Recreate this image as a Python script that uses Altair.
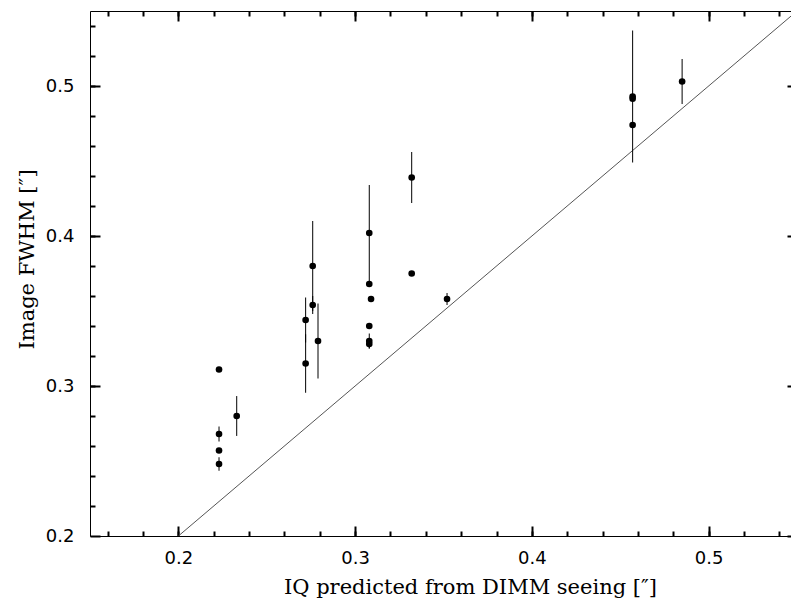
import altair as alt
import pandas as pd

# Data
x_iq = [0.223, 0.223, 0.223, 0.223, 0.233, 0.272, 0.272, 0.276, 0.276, 0.279,
        0.308, 0.308, 0.309, 0.308, 0.308, 0.308, 0.332, 0.332, 0.352,
        0.457, 0.457, 0.457, 0.485]
y_fwhm = [0.311, 0.268, 0.257, 0.248, 0.280, 0.344, 0.315, 0.380, 0.354, 0.330,
          0.402, 0.368, 0.358, 0.340, 0.330, 0.328, 0.439, 0.375, 0.358,
          0.493, 0.4915, 0.474, 0.503]
y_err = [0.0, 0.005, 0.0, 0.0045, 0.0133, 0.015, 0.0195, 0.030, 0.006, 0.025,
         0.032, 0.0, 0.0, 0.0, 0.005, 0.003, 0.017, 0.0, 0.004,
         0.044, 0.0, 0.0, 0.015]

line_x = [0.2, 0.55]
line_y = [0.2, 0.55]

x_major = [0.2, 0.3, 0.4, 0.5]
x_minor = [0.16, 0.18, 0.2, 0.22, 0.24, 0.26, 0.28, 0.3, 0.32, 0.34, 0.36,
           0.38, 0.4, 0.42, 0.44, 0.46, 0.48, 0.5, 0.52, 0.54]
y_major = [0.2, 0.3, 0.4, 0.5]
y_minor = [0.22, 0.24, 0.26, 0.28, 0.3, 0.32, 0.34, 0.36, 0.38, 0.4, 0.42,
           0.44, 0.46, 0.48, 0.5, 0.52, 0.54]

x_title = "IQ predicted from DIMM seeing [\u2033]"
y_title = "Image FWHM [\u2033]"

df = pd.DataFrame({
    "x": x_iq,
    "y": y_fwhm,
    "lo": [v - e for v, e in zip(y_fwhm, y_err)],
    "hi": [v + e for v, e in zip(y_fwhm, y_err)],
})
dline = pd.DataFrame({"lx": line_x, "ly": line_y})

# the right frame of the original falls just outside the picture
xs = alt.Scale(domain=[0.15, 0.5466], nice=False, zero=False)
ys = alt.Scale(domain=[0.2, 0.55], nice=False, zero=False)

LABEL_FONT = "DejaVu Sans"
TITLE_FONT = "DejaVu Serif"


def tick_axis(orient, values, size, offset):
    return alt.Axis(orient=orient, values=values, ticks=True, tickSize=size,
                    tickColor="#000000", tickWidth=2, labels=False, domain=False,
                    grid=False, title="", offset=offset)


ax_bottom = alt.Axis(orient="bottom", values=x_major, format=".1f", ticks=False,
                     domain=True, domainColor="black",
                     labelFont=LABEL_FONT, labelFontSize=18, labelColor="black",
                     labelPadding=13, labelFlush=False, grid=False,
                     title=x_title, titleFont=TITLE_FONT, titleFontSize=21,
                     titleFontWeight="normal", titleColor="black",
                     titleBaseline="alphabetic", titleAlign="center",
                     titleX=380, titleY=57, offset=0)
ay_left = alt.Axis(orient="left", values=y_major, format=".1f", ticks=False,
                   domain=True, domainColor="black",
                   labelFont=LABEL_FONT, labelFontSize=18, labelColor="black",
                   labelPadding=16, labelFlush=False, grid=False,
                   title=y_title, titleFont=TITLE_FONT, titleFontSize=21,
                   titleFontWeight="normal", titleColor="black",
                   titleBaseline="alphabetic", titleAlign="center", titleAngle=270,
                   titleX=-57, titleY=248, offset=0)
ax_top_domain = alt.Axis(orient="top", ticks=False, labels=False, domain=True,
                         domainColor="black", grid=False, title="", offset=0)

points = alt.Chart(df).mark_circle(size=44, color="black", opacity=1).encode(
    x=alt.X("x:Q", scale=xs, axis=ax_bottom),
    y=alt.Y("y:Q", scale=ys, axis=ay_left),
)

errbars = alt.Chart(df).mark_rule(color="black").encode(
    x=alt.X("x:Q", scale=xs, axis=tick_axis("bottom", x_major, 10, -10)),
    y=alt.Y("lo:Q", scale=ys, axis=tick_axis("left", y_major, 10, -10)),
    y2="hi:Q",
)

diag = alt.Chart(dline).mark_line(color="#555555", strokeWidth=1, clip=True).encode(
    x=alt.X("lx:Q", scale=xs, axis=tick_axis("bottom", x_minor, 5, -5)),
    y=alt.Y("ly:Q", scale=ys, axis=tick_axis("left", y_minor, 5, -5)),
)

ghost1 = alt.Chart(df).mark_point(opacity=0).encode(
    x=alt.X("x:Q", scale=xs, axis=ax_top_domain),
    y=alt.Y("y:Q", scale=ys, axis=tick_axis("right", y_major, 10, -4)),
)
ghost2 = alt.Chart(df).mark_point(opacity=0).encode(
    x=alt.X("x:Q", scale=xs, axis=tick_axis("top", x_major, 10, -10)),
    y=alt.Y("y:Q", scale=ys, axis=None),
)
ghost3 = alt.Chart(df).mark_point(opacity=0).encode(
    x=alt.X("x:Q", scale=xs, axis=tick_axis("top", x_minor, 5, -5)),
    y=alt.Y("y:Q", scale=ys, axis=None),
)

chart = alt.layer(diag, errbars, points, ghost1, ghost2, ghost3).resolve_axis(
    x="independent", y="independent"
).properties(
    width=701, height=525,
    autosize=alt.AutoSizeParams(type="none"),
    padding={"left": 90, "top": 11, "right": 0, "bottom": 65},
    background="white",
)

chart.save("out.html", embed_options={"renderer": "svg", "actions": False})
